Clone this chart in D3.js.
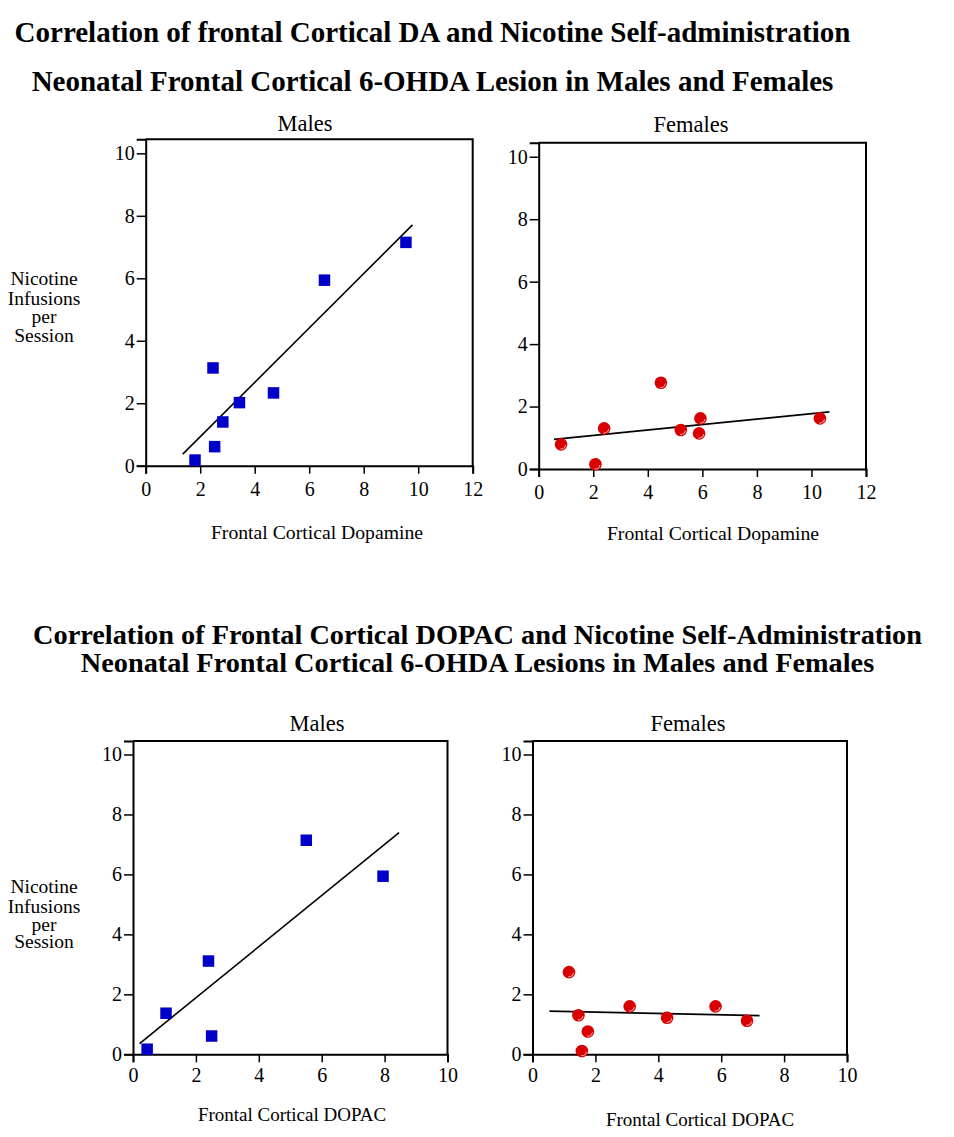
<!DOCTYPE html>
<html>
<head>
<meta charset="utf-8">
<script src="https://cdn.jsdelivr.net/npm/d3@7"></script>
<style>
  html, body { margin: 0; padding: 0; background: #fff; }
  svg { display: block; }
  text { font-family: "Liberation Serif", "Times New Roman", serif; fill: #000; }
</style>
</head>
<body>
<svg id="chart" width="954" height="1137"></svg>
<script>
// ---------- DATA ----------
const titleTop = ["Correlation of frontal Cortical DA and Nicotine Self-administration",
                  "Neonatal Frontal Cortical 6-OHDA Lesion in Males and Females"];
const titleBottom = ["Correlation of Frontal Cortical DOPAC and Nicotine Self-Administration",
                     "Neonatal Frontal Cortical 6-OHDA Lesions in Males and Females"];
const yLabelLines = ["Nicotine", "Infusions", "per", "Session"];

// Males, dopamine
const malesDA_x = [1.81, 2.47, 2.53, 2.83, 3.44, 4.69, 6.56, 9.55];
const malesDA_y = [0.18, 3.13, 0.61, 1.40, 2.02, 2.33, 5.94, 7.15];
const malesDA_fitX = [1.36, 9.79];
const malesDA_fitY = [0.37, 7.71];

// Females, dopamine
const femalesDA_x = [0.82, 2.08, 2.40, 4.48, 5.21, 5.93, 5.88, 10.31];
const femalesDA_y = [0.79, 0.15, 1.30, 2.76, 1.25, 1.62, 1.14, 1.62];
const femalesDA_fitX = [0.56, 10.66];
const femalesDA_fitY = [0.95, 1.83];

// Males, DOPAC
const malesDOPAC_x = [0.45, 1.05, 2.40, 2.50, 5.51, 7.95];
const malesDOPAC_y = [0.17, 1.37, 3.11, 0.61, 7.14, 5.94];
const malesDOPAC_fitX = [0.21, 8.46];
const malesDOPAC_fitY = [0.36, 7.39];

// Females, DOPAC
const femalesDOPAC_x = [1.16, 1.46, 1.76, 1.57, 3.09, 4.28, 5.82, 6.82];
const femalesDOPAC_y = [2.74, 1.30, 0.76, 0.11, 1.60, 1.22, 1.60, 1.12];
const femalesDOPAC_fitX = [0.54, 7.22];
const femalesDOPAC_fitY = [1.44, 1.29];

const yTicks = [0, 2, 4, 6, 8, 10];
const xTicksDA = [0, 2, 4, 6, 8, 10, 12];
const xTicksDOPAC = [0, 2, 4, 6, 8, 10];

// ---------- LAYOUT ----------
const svg = d3.select("#chart");

function title(lines, cx, baselines, size) {
  lines.forEach((t, i) => {
    svg.append("text").attr("x", cx).attr("y", baselines[i])
      .attr("text-anchor", "middle").attr("font-weight", "bold")
      .attr("font-size", size).text(t);
  });
}
title(titleTop, 432.5, [41.5, 91], 29);
title(titleBottom, 477.5, [644, 672], 28.3);

function yLabel(cx, baselines) {
  yLabelLines.forEach((t, i) => {
    svg.append("text").attr("x", cx).attr("y", baselines[i])
      .attr("text-anchor", "middle").attr("font-size", 19.5).text(t);
  });
}
yLabel(44, [285, 305, 323, 342]);
yLabel(44, [893, 913, 931, 947.5]);

function panel(cfg) {
  const x = d3.scaleLinear().domain(cfg.xDomain).range([cfg.left, cfg.right]);
  const y = d3.scaleLinear().domain([0, 10.45]).range([cfg.bottom, cfg.top]);
  const g = svg.append("g");

  // frame (top and right)
  g.append("path")
    .attr("d", `M${cfg.left},${cfg.top}H${cfg.right}V${cfg.bottom}`)
    .attr("fill", "none").attr("stroke", "#000").attr("stroke-width", 2);

  const xa = g.append("g").attr("transform", `translate(0,${cfg.bottom})`)
    .call(d3.axisBottom(x).tickValues(cfg.xTicks).tickSize(8).tickPadding(cfg.xPad).tickFormat(d3.format("d")));
  const ya = g.append("g").attr("transform", `translate(${cfg.left},0)`)
    .call(d3.axisLeft(y).tickValues(yTicks).tickSize(9).tickPadding(2).tickFormat(d3.format("d")));
  [xa, ya].forEach(a => {
    a.select(".domain").attr("stroke-width", 2).attr("stroke", "#000");
    a.selectAll(".tick line").attr("stroke-width", 1.5).attr("stroke", "#000");
    a.selectAll(".tick text").attr("font-family", "Liberation Serif, Times New Roman, serif")
      .attr("font-size", cfg.tickSize).attr("fill", "#000");
  });

  // panel title
  svg.append("text").attr("x", cfg.titleX).attr("y", cfg.titleY)
    .attr("text-anchor", "middle").attr("font-size", 22.5).text(cfg.title);
  // x label
  svg.append("text").attr("x", cfg.xLabelX).attr("y", cfg.xLabelY)
    .attr("text-anchor", "middle").attr("font-size", cfg.xLabelSize).text(cfg.xLabel);

  // fit line
  const fit = cfg.fitX.map((v, i) => [v, cfg.fitY[i]]);
  g.append("path").attr("d", d3.line().x(d => x(d[0])).y(d => y(d[1]))(fit))
    .attr("stroke", "#000").attr("stroke-width", 1.6).attr("fill", "none");

  const pts = cfg.xs.map((v, i) => [v, cfg.ys[i]]);
  if (cfg.marker === "square") {
    const s = 11.5;
    g.selectAll("rect.pt").data(pts).join("rect").attr("class", "pt")
      .attr("x", d => x(d[0]) - s / 2).attr("y", d => y(d[1]) - s / 2)
      .attr("width", s).attr("height", s).attr("fill", "#0000c8");
  } else {
    const r = 6.3;
    const mg = g.selectAll("g.pt").data(pts).join("g").attr("class", "pt")
      .attr("transform", d => `translate(${x(d[0])},${y(d[1])})`);
    mg.append("circle").attr("r", r).attr("fill", "#d80000");
    mg.append("path")
      .attr("d", d3.arc()({innerRadius: r - 2.2, outerRadius: r - 1.2, startAngle: Math.PI * 0.55, endAngle: Math.PI * 1.05}))
      .attr("fill", "#ffb0b0");
  }
}

panel({ xDomain: [0, 12], xTicks: xTicksDA, left: 145.7, right: 472.7, top: 139.3, bottom: 465.7,
  xs: malesDA_x, ys: malesDA_y, fitX: malesDA_fitX, fitY: malesDA_fitY, marker: "square",
  title: "Males", titleX: 305, titleY: 131, xLabel: "Frontal Cortical Dopamine", xLabelX: 317, xLabelY: 539,
  xLabelSize: 19.7, tickSize: 20, xPad: 8 });
panel({ xDomain: [0, 12], xTicks: xTicksDA, left: 538.7, right: 866, top: 142.7, bottom: 469,
  xs: femalesDA_x, ys: femalesDA_y, fitX: femalesDA_fitX, fitY: femalesDA_fitY, marker: "circle",
  title: "Females", titleX: 691, titleY: 132, xLabel: "Frontal Cortical Dopamine", xLabelX: 713, xLabelY: 540,
  xLabelSize: 19.7, tickSize: 20, xPad: 8 });
panel({ xDomain: [0, 10], xTicks: xTicksDOPAC, left: 133, right: 447.5, top: 741, bottom: 1054.3,
  xs: malesDOPAC_x, ys: malesDOPAC_y, fitX: malesDOPAC_fitX, fitY: malesDOPAC_fitY, marker: "square",
  title: "Males", titleX: 317, titleY: 731, xLabel: "Frontal Cortical DOPAC", xLabelX: 292, xLabelY: 1121,
  xLabelSize: 19, tickSize: 20, xPad: 6 });
panel({ xDomain: [0, 10], xTicks: xTicksDOPAC, left: 532.5, right: 847, top: 741, bottom: 1054.3,
  xs: femalesDOPAC_x, ys: femalesDOPAC_y, fitX: femalesDOPAC_fitX, fitY: femalesDOPAC_fitY, marker: "circle",
  title: "Females", titleX: 688, titleY: 731, xLabel: "Frontal Cortical DOPAC", xLabelX: 700, xLabelY: 1126,
  xLabelSize: 19, tickSize: 20, xPad: 6 });
</script>
</body>
</html>
